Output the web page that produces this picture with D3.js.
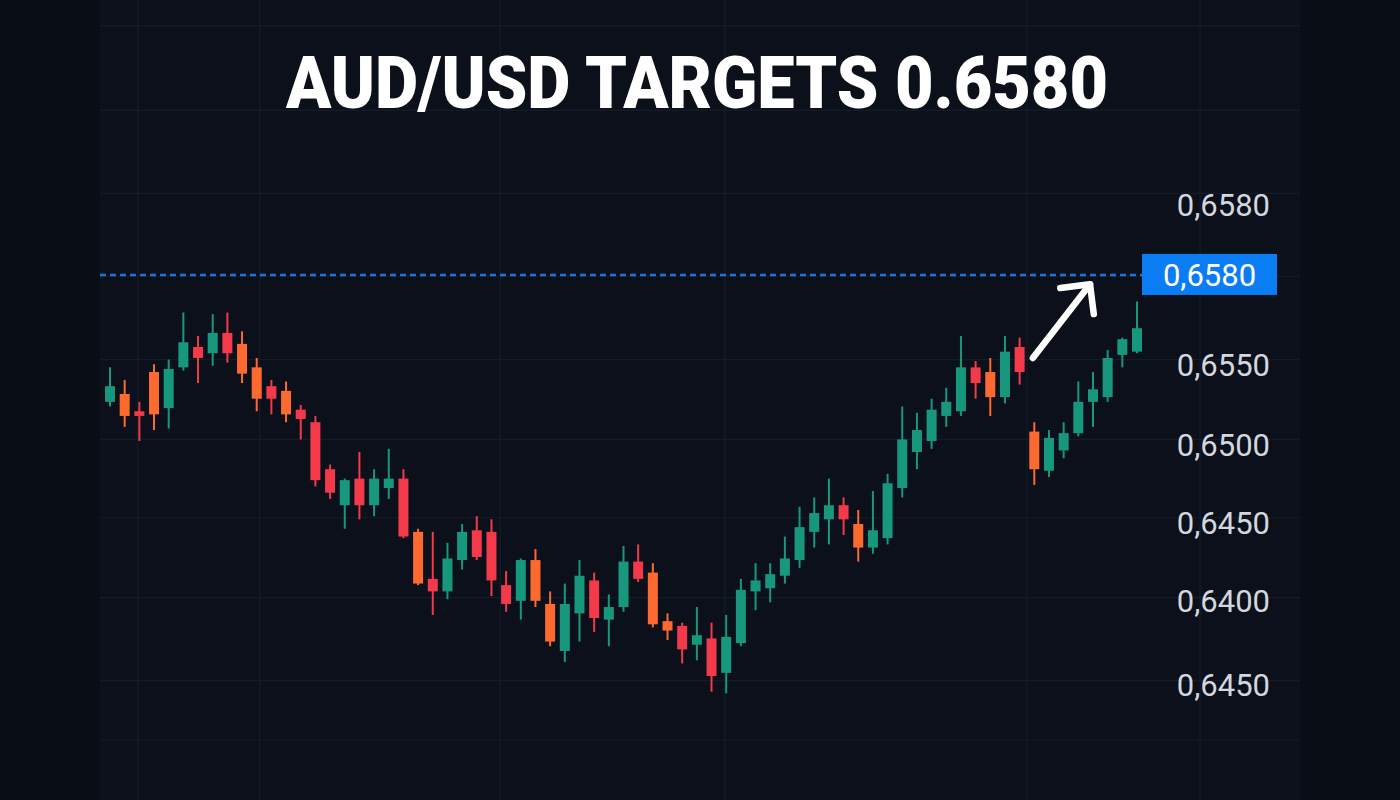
<!DOCTYPE html>
<html><head><meta charset="utf-8">
<script src="https://cdn.jsdelivr.net/npm/d3@7"></script>
<style>html,body{margin:0;padding:0;background:#090d16;} svg{display:block}</style>
</head><body>
<svg id="chart" width="1400" height="800"></svg>
<script>
const title = "AUD/USD TARGETS 0.6580";
const opens = [0.6525,0.6530,0.6519,0.6544,0.6521,0.6547,0.6560,0.6556,0.6569,0.6562,0.6547,0.6535,0.6532,0.6520,0.6512,0.6482,0.6459,0.6476,0.6459,0.6470,0.6476,0.6442,0.6412,0.6404,0.6424,0.6443,0.6442,0.6408,0.6398,0.6424,0.6396,0.6366,0.6390,0.6411,0.6386,0.6394,0.6423,0.6416,0.6385,0.6382,0.6370,0.6374,0.6352,0.6371,0.6404,0.6406,0.6414,0.6424,0.6442,0.6450,0.6459,0.6447,0.6432,0.6438,0.6470,0.6493,0.6500,0.6516,0.6519,0.6547,0.6544,0.6528,0.6560,0.6506,0.6481,0.6494,0.6505,0.6525,0.6528,0.6555,0.6557];
const highs = [0.6547,0.6539,0.6525,0.6549,0.6552,0.6582,0.6567,0.6581,0.6582,0.6570,0.6553,0.6539,0.6538,0.6523,0.6516,0.6485,0.6476,0.6493,0.6482,0.6495,0.6482,0.6444,0.6442,0.6435,0.6447,0.6452,0.6450,0.6417,0.6425,0.6431,0.6404,0.6409,0.6424,0.6416,0.6402,0.6433,0.6434,0.6422,0.6390,0.6384,0.6394,0.6384,0.6389,0.6412,0.6422,0.6422,0.6439,0.6458,0.6464,0.6476,0.6464,0.6456,0.6468,0.6479,0.6522,0.6518,0.6527,0.6534,0.6567,0.6551,0.6553,0.6567,0.6566,0.6512,0.6507,0.6512,0.6538,0.6544,0.6558,0.6566,0.6589];
const lows = [0.6522,0.6509,0.6500,0.6507,0.6508,0.6545,0.6537,0.6548,0.6550,0.6537,0.6519,0.6517,0.6512,0.6501,0.6471,0.6463,0.6444,0.6450,0.6452,0.6463,0.6438,0.6408,0.6389,0.6399,0.6418,0.6424,0.6401,0.6391,0.6386,0.6394,0.6369,0.6359,0.6372,0.6378,0.6369,0.6391,0.6410,0.6381,0.6373,0.6358,0.6360,0.6340,0.6339,0.6369,0.6392,0.6397,0.6409,0.6419,0.6432,0.6434,0.6440,0.6423,0.6428,0.6434,0.6464,0.6482,0.6495,0.6509,0.6516,0.6527,0.6516,0.6524,0.6536,0.6472,0.6477,0.6489,0.6503,0.6509,0.6525,0.6547,0.6556];
const closes = [0.6535,0.6516,0.6516,0.6517,0.6546,0.6563,0.6553,0.6569,0.6556,0.6543,0.6527,0.6527,0.6517,0.6514,0.6475,0.6467,0.6475,0.6459,0.6476,0.6476,0.6439,0.6409,0.6404,0.6425,0.6442,0.6426,0.6411,0.6396,0.6424,0.6398,0.6372,0.6396,0.6414,0.6387,0.6394,0.6423,0.6412,0.6383,0.6379,0.6367,0.6376,0.6350,0.6375,0.6405,0.6411,0.6415,0.6425,0.6445,0.6454,0.6459,0.6450,0.6432,0.6443,0.6473,0.6501,0.6507,0.6520,0.6525,0.6547,0.6537,0.6528,0.6557,0.6544,0.6482,0.6502,0.6505,0.6525,0.6533,0.6553,0.6565,0.6572];
// bar tone category: up / down / down2 (lighter bearish bars)
const candleTone = ["up","down2","down","down2","up","up","down","up","down","down2","down2","down","down2","down","down","down","up","down","up","up","down","down2","down","up","up","down","down","down","up","down2","down2","up","up","down","up","up","down","down2","down2","down","up","down","up","up","up","up","up","up","up","up","down","down2","up","up","up","up","up","up","up","down","down2","up","down","down2","up","up","up","up","up","up","up"];
const tickValues = [0.6651,0.6549,0.6498,0.6448,0.6398,0.6345];
const tickLabels = ["0,6580","0,6550","0,6500","0,6450","0,6400","0,6450"];
const gridValues = [0.6765,0.6711,0.6658,0.6605,0.6552,0.6501,0.6451,0.6400,0.6347,0.6309];
const timeGrid = [1.9,10.2,26.6,41.9,62.5,74.3];
const target = 0.6606;
const targetLabel = "0,6580";
const arrowFrom = [62.9, 0.6553];
const arrowTo = [66.8, 0.6600];

const W = 1400, H = 800;
const svg = d3.select("#chart");
const x = d3.scaleLinear().domain([0, opens.length - 1]).range([110, 1137]);
const y = d3.scaleLinear().domain([0.6350, 0.6650]).range([676, 206]);
const tone = d3.scaleOrdinal().domain(["up","down","down2"]).range(["#17987d","#f23a4a","#fd6a30"]);

svg.append("rect").attr("width", W).attr("height", H).attr("fill", "#090d16");
svg.append("rect").attr("x", 100).attr("y", 0).attr("width", 1200).attr("height", H).attr("fill", "#0b101b");

const grid = svg.append("g").attr("stroke", "#151c29").attr("stroke-width", 1.2);
grid.selectAll("line.h").data(gridValues).join("line").attr("class","h")
  .attr("x1", 100).attr("x2", 1300).attr("y1", d => y(d)).attr("y2", d => y(d));
grid.selectAll("line.v").data(timeGrid).join("line").attr("class","v")
  .attr("x1", d => x(d)).attr("x2", d => x(d)).attr("y1", 0).attr("y2", H);

svg.append("text").attr("x", 697).attr("y", 108).attr("text-anchor", "middle")
  .attr("font-family", "Roboto, 'Liberation Sans', sans-serif").attr("font-weight", 900)
  .attr("font-size", 72).attr("fill", "#ffffff")
  .attr("textLength", 822).attr("lengthAdjust", "spacingAndGlyphs").text(title);

const data = opens.map((o, i) => ({ i, o, h: highs[i], l: lows[i], c: closes[i], t: candleTone[i] }));
const g = svg.append("g");
const cg = g.selectAll("g.c").data(data).join("g").attr("class", "c");
cg.append("line").attr("x1", d => x(d.i)).attr("x2", d => x(d.i))
  .attr("y1", d => y(d.h)).attr("y2", d => y(d.l))
  .attr("stroke", d => tone(d.t)).attr("stroke-width", 2);
cg.append("rect").attr("x", d => x(d.i) - 5).attr("width", 10)
  .attr("y", d => y(Math.max(d.o, d.c)))
  .attr("height", d => Math.max(2, Math.abs(y(d.o) - y(d.c))))
  .attr("fill", d => tone(d.t));

// target line
svg.append("line").attr("x1", 100).attr("x2", 1142).attr("y1", y(target)).attr("y2", y(target))
  .attr("stroke", "#1c74e0").attr("stroke-width", 2.5).attr("stroke-dasharray", "6,4");
svg.append("rect").attr("x", 1142).attr("y", y(target) - 21).attr("width", 135).attr("height", 41)
  .attr("fill", "#0a7cf4");
svg.append("text").attr("x", 1209.5).attr("y", y(target)).attr("dy", "0.36em").attr("text-anchor", "middle")
  .attr("font-family", "Roboto, sans-serif").attr("font-size", 31).attr("fill", "#ffffff").text(targetLabel);

// axis
const axis = d3.axisRight(y).tickValues(tickValues).tickFormat((d, i) => tickLabels[i]).tickSize(0);
const ag = svg.append("g").attr("transform", "translate(1270,0)").call(axis);
ag.select(".domain").remove();
ag.selectAll("text").attr("x", 0).attr("dy", "0.36em").attr("text-anchor", "end")
  .attr("font-family", "Roboto, sans-serif").attr("font-size", 31).attr("fill", "#d3d7de");

// arrow annotation
const x0 = x(arrowFrom[0]), y0 = y(arrowFrom[1]), x1 = x(arrowTo[0]), y1 = y(arrowTo[1]);
const ang = Math.atan2(y0 - y1, x0 - x1);
const L = 30, spread = Math.PI / 4;
const arr = svg.append("g").attr("stroke", "#ffffff").attr("stroke-width", 6.5)
  .attr("stroke-linecap", "round").attr("stroke-linejoin", "round").attr("fill", "none");
arr.append("path").attr("d", `M${x0},${y0} L${x1},${y1}`);
arr.append("path").attr("d",
  `M${x1 + L*Math.cos(ang+spread)},${y1 + L*Math.sin(ang+spread)} L${x1},${y1} L${x1 + L*Math.cos(ang-spread)},${y1 + L*Math.sin(ang-spread)}`);
</script>
</body></html>
